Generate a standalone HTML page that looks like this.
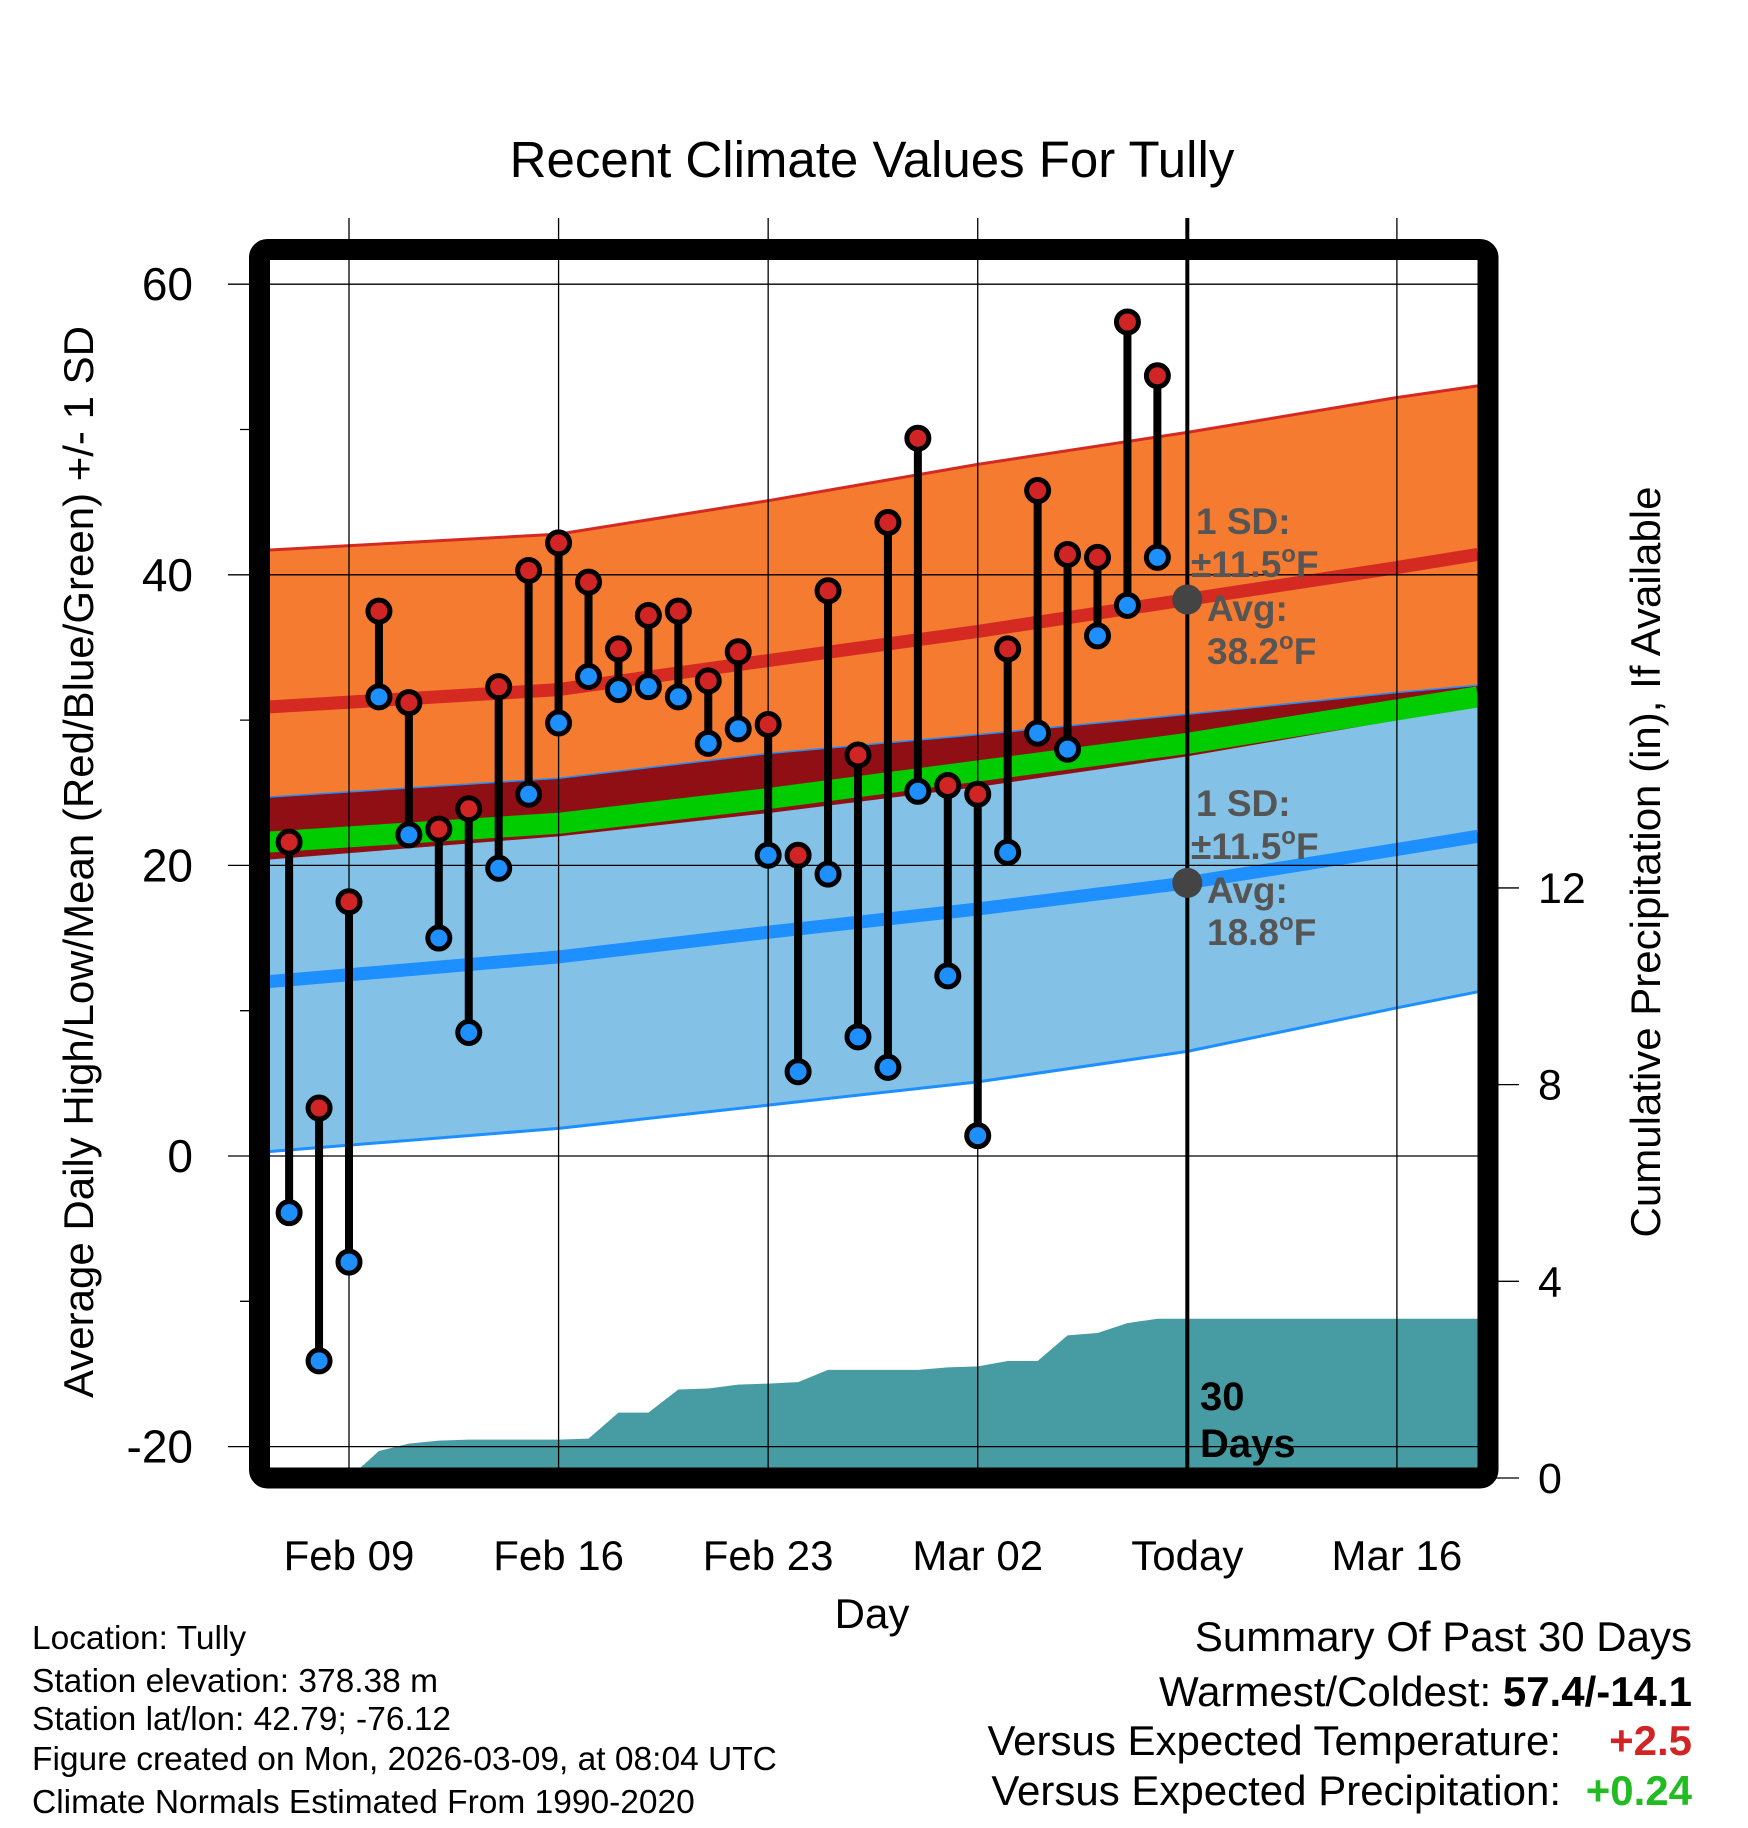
<!DOCTYPE html>
<html><head><meta charset="utf-8"><style>
html,body{margin:0;padding:0;background:#fff;}
svg{display:block;font-family:"Liberation Sans",sans-serif;}
</style></head><body>
<svg id="chart" width="1748" height="1828" viewBox="0 0 1748 1828" xmlns="http://www.w3.org/2000/svg" style="position:absolute;left:0;top:0">
<defs><clipPath id="plotclip"><rect x="270" y="260" width="1208" height="1208"/></clipPath></defs>
<g id="bands" clip-path="url(#plotclip)"></g>
<g id="grid"></g>
<g id="marks"></g>
<g id="texts"></g>
</svg>
<script>
// ---- data ----
const normDays = [-2.7, 7, 14, 21, 28, 35, 37.7];
const highPlus = [41.7, 42.8, 45.1, 47.6, 49.8, 52.2, 53.0];
const highAvg  = [30.9, 32.1, 34.1, 36.1, 38.3, 40.5, 41.4];
const highMinus= [20.4, 22.0, 23.6, 25.4, 27.5, 30.0, 30.9];
const lowPlus  = [24.7, 26.0, 27.7, 29.0, 30.4, 31.9, 32.4];
const meanAvg  = [21.6, 22.9, 24.6, 26.5, 28.4, 30.7, 31.6];
const lowAvg   = [12.0, 13.7, 15.4, 17.0, 18.8, 21.1, 22.0];
const lowMinus = [0.3, 1.9, 3.5, 5.1, 7.2, 10.2, 11.3];
const obsDays = [-2,-1,0,1,2,3,4,5,6,7,8,9,10,11,12,13,14,15,16,17,18,19,20,21,22,23,24,25,26,27];
const highs = [21.6,3.3,17.5,37.5,31.2,22.5,23.9,32.3,40.3,42.2,39.5,34.9,37.2,37.5,32.7,34.7,29.7,20.7,38.9,27.6,43.6,49.4,25.5,24.9,34.9,45.8,41.4,41.2,57.4,53.7];
const lows  = [-3.9,-14.1,-7.3,31.6,22.1,15.0,8.5,19.8,24.9,29.8,33.0,32.1,32.3,31.6,28.4,29.4,20.7,5.8,19.4,8.2,6.1,25.1,12.4,1.4,20.9,29.1,28.0,35.8,37.9,41.2];
const precip = [0,0,0,0.55,0.7,0.76,0.78,0.78,0.78,0.78,0.8,1.33,1.33,1.8,1.82,1.9,1.92,1.95,2.2,2.2,2.2,2.2,2.25,2.27,2.38,2.38,2.9,2.95,3.15,3.24];
const xTickDays = [0,7,14,21,28,35];
const xTickLabels = ["Feb 09","Feb 16","Feb 23","Mar 02","Today","Mar 16"];
const yTicks = [60,40,20,0,-20];
const yMinor = [50,30,10,-10];
const y2Ticks = [0,4,8,12];
const todayDay = 28;

// ---- scales ----
const X = d => 349 + d*29.94;
const Y = v => 1156 - v*14.53;
const Y2 = p => 1478 - p*49.17;
const NS = "http://www.w3.org/2000/svg";
function mk(tag, attrs, parent){const e=document.createElementNS(NS,tag);for(const k in attrs)e.setAttribute(k,attrs[k]);parent.appendChild(e);return e;}
const bands=document.getElementById('bands'), grid=document.getElementById('grid'), marks=document.getElementById('marks'), texts=document.getElementById('texts');
const pts = arr => normDays.map((d,i)=>X(d)+','+Y(arr[i]));
function band(top,bot,fill,name){
  const p=mk('polygon',{points:pts(top).concat(pts(bot).reverse()).join(' '),fill:fill},bands);
  
  
}
function line(arr,color,w,name){
  const p=mk('polyline',{points:pts(arr).join(' '),fill:'none',stroke:color,'stroke-width':w,'stroke-linejoin':'round'},bands);
  
  
}
band(highPlus,highMinus,'#f47b30','high-sd-band');
band(lowPlus,lowMinus,'#83c1e7','low-sd-band');
band(lowPlus,highMinus,'#900f14','overlap-band');
line(highPlus,'#d42a22',3,'high-upper-edge');
line(lowMinus,'#1e8fff',3,'low-lower-edge');
line(lowPlus,'#1e8fff',1.5,'low-upper-edge');
line(meanAvg,'#00cc00',21,'mean-normal-line');
line(highAvg,'#d42a22',13,'high-normal-line');
line(lowAvg,'#1e8fff',13,'low-normal-line');
// precip area
let pp=[X(obsDays[0])+','+Y2(0)];
obsDays.forEach((d,i)=>pp.push(X(d)+','+Y2(precip[i])));
pp.push('1480,'+Y2(precip[precip.length-1]));pp.push('1480,'+Y2(0));
const pa=mk('polygon',{points:pp.join(' '),fill:'#479ba3'},bands);


// grid
xTickDays.forEach((d,i)=>{
  const l=mk('line',{x1:X(d),x2:X(d),y1:218,y2:1468,stroke:'#000','stroke-width':1.3},grid);
  
  
  const t=mk('text',{x:X(d),y:1570,'font-size':42,'text-anchor':'middle'},texts);t.textContent=xTickLabels[i];
  
  
});
yTicks.forEach(v=>{
  const l=mk('line',{x1:228,x2:1478,y1:Y(v),y2:Y(v),stroke:'#000','stroke-width':1.3},grid);
  
  
  const t=mk('text',{x:193,y:Y(v)+16,'font-size':46,'text-anchor':'end'},texts);t.textContent=v;
  
  
});
yMinor.forEach(v=>{
  const l=mk('line',{x1:240,x2:270,y1:Y(v),y2:Y(v),stroke:'#000','stroke-width':1.3},grid);
  
  
});
y2Ticks.forEach(v=>{
  const l=mk('line',{x1:1478,x2:1519,y1:Y2(v),y2:Y2(v),stroke:'#000','stroke-width':1.3},grid);
  
  
  const t=mk('text',{x:1538,y:Y2(v)+15,'font-size':43},texts);t.textContent=v;
  
  
});
// today line
const tl=mk('line',{x1:X(todayDay),x2:X(todayDay),y1:218,y2:1468,stroke:'#000','stroke-width':4},grid);


// frame
const fr=mk('rect',{x:259.5,y:249.5,width:1228.5,height:1228.5,rx:8,fill:'none',stroke:'#000','stroke-width':21},grid);


// observations
obsDays.forEach((d,i)=>{
  const s=mk('line',{x1:X(d),x2:X(d),y1:Y(highs[i]),y2:Y(lows[i]),stroke:'#000','stroke-width':8},marks);
  
  
});
obsDays.forEach((d,i)=>{
  const h=mk('circle',{cx:X(d),cy:Y(highs[i]),r:11,fill:'#d12424',stroke:'#000','stroke-width':5},marks);
  
  
  const l=mk('circle',{cx:X(d),cy:Y(lows[i]),r:11,fill:'#1e8fff',stroke:'#000','stroke-width':5},marks);
  
  
});
// today avg markers
const ti=normDays.indexOf(todayDay);
[[highAvg[ti],'high-avg-marker'],[lowAvg[ti],'low-avg-marker']].forEach(a=>{
  const c=mk('circle',{cx:X(todayDay),cy:Y(a[0]),r:15,fill:'#444'},marks);
  
  
});
</script>
<svg style="position:absolute;left:0;top:0" width="1748" height="1828">
<text x="872" y="177" font-size="51" text-anchor="middle" font-family="Liberation Sans,sans-serif">Recent Climate Values For Tully</text>
<text x="872" y="1628" font-size="42" text-anchor="middle" font-family="Liberation Sans,sans-serif">Day</text>
<text transform="translate(93,862) rotate(-90)" font-size="42" text-anchor="middle" font-family="Liberation Sans,sans-serif">Average Daily High/Low/Mean (Red/Blue/Green) +/- 1 SD</text>
<text transform="translate(1660,862) rotate(-90)" font-size="42" text-anchor="middle" font-family="Liberation Sans,sans-serif">Cumulative Precipitation (in), If Available</text>
<g fill="#555" font-weight="bold" font-size="37" font-family="Liberation Sans,sans-serif">
<text x="1196" y="534">1 SD:</text><text x="1191" y="577">±11.5<tspan dy="-15" font-size="24">o</tspan><tspan dy="15">F</tspan></text>
<text x="1207" y="621">Avg:</text><text x="1207" y="664">38.2<tspan dy="-15" font-size="24">o</tspan><tspan dy="15">F</tspan></text>
</g>
<g fill="#555" font-weight="bold" font-size="37" font-family="Liberation Sans,sans-serif">
<text x="1196" y="816">1 SD:</text><text x="1191" y="859">±11.5<tspan dy="-15" font-size="24">o</tspan><tspan dy="15">F</tspan></text>
<text x="1207" y="903">Avg:</text><text x="1207" y="945">18.8<tspan dy="-15" font-size="24">o</tspan><tspan dy="15">F</tspan></text>
</g>
<g font-weight="bold" font-size="40" font-family="Liberation Sans,sans-serif">
<text x="1200" y="1410">30</text><text x="1200" y="1457">Days</text>
</g>
<g font-size="33.5" font-family="Liberation Sans,sans-serif">
<text x="32" y="1649">Location: Tully</text>
<text x="32" y="1692">Station elevation: 378.38 m</text>
<text x="32" y="1730">Station lat/lon: 42.79; -76.12</text>
<text x="32" y="1770">Figure created on Mon, 2026-03-09, at 08:04 UTC</text>
<text x="32" y="1813">Climate Normals Estimated From 1990-2020</text>
</g>
<g font-size="42" font-family="Liberation Sans,sans-serif" text-anchor="end">
<text x="1692" y="1651">Summary Of Past 30 Days</text>
<text x="1692" y="1706">Warmest/Coldest:  <tspan font-weight="bold">57.4/-14.1</tspan></text>
<text x="1561" y="1755">Versus Expected Temperature:</text>
<text x="1692" y="1755" font-weight="bold" fill="#d12424">+2.5</text>
<text x="1561" y="1805">Versus Expected Precipitation:</text>
<text x="1692" y="1805" font-weight="bold" fill="#22bb22">+0.24</text>
</g>
</svg>
</body></html>
